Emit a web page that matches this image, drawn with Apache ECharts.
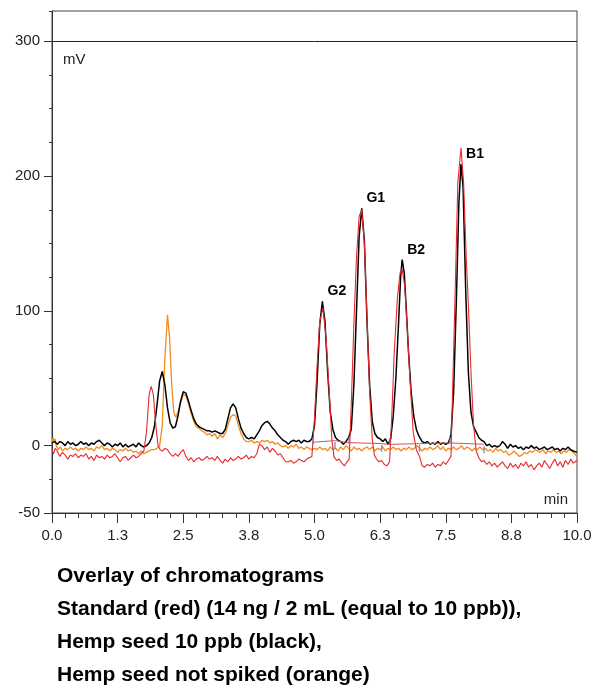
<!DOCTYPE html>
<html>
<head>
<meta charset="utf-8">
<script src="https://cdn.jsdelivr.net/npm/echarts@6/dist/echarts.min.js"></script>
<style>
  html, body { margin: 0; padding: 0; background: #fff; }
  #chart { width: 609px; height: 689px; }
</style>
</head>
<body>
<div id="chart"></div>
<script>
// retention time (min) / signal (mV)
var blackTime = [0.00,0.05,0.10,0.15,0.20,0.25,0.30,0.35,0.40,0.45,0.50,0.55,0.60,0.65,0.70,0.75,0.80,0.85,0.90,0.95,
  1.00,1.05,1.10,1.15,1.20,1.25,1.30,1.35,1.40,1.45,1.50,1.55,1.60,1.65,1.70,1.75,1.80,1.85,1.90,1.95,
  2.00,2.05,2.10,2.15,2.20,2.25,2.30,2.35,2.40,2.45,2.50,2.55,2.60,2.65,2.70,2.75,2.80,2.85,2.90,2.95,
  3.00,3.05,3.10,3.15,3.20,3.25,3.30,3.35,3.40,3.45,3.50,3.55,3.60,3.65,3.70,3.75,3.80,3.85,3.90,3.95,
  4.00,4.05,4.10,4.15,4.20,4.25,4.30,4.35,4.40,4.45,4.50,4.55,4.60,4.65,4.70,4.75,4.80,4.85,4.90,4.95,
  5.00,5.05,5.10,5.15,5.20,5.25,5.30,5.35,5.40,5.45,5.50,5.55,5.60,5.65,5.70,5.75,5.80,5.85,5.90,5.95,
  6.00,6.05,6.10,6.15,6.20,6.25,6.30,6.35,6.40,6.45,6.50,6.55,6.60,6.64,6.67,6.71,6.75,6.79,6.84,6.89,
  6.94,6.99,7.05,7.10,7.15,7.20,7.25,7.30,7.35,7.40,7.45,7.50,7.55,7.60,7.65,7.70,7.75,7.79,7.83,7.88,
  7.93,7.98,8.03,8.08,8.13,8.18,8.23,8.28,8.33,8.38,8.43,8.48,8.53,8.58,8.63,8.68,8.73,8.78,8.83,8.88,
  8.93,8.98,9.03,9.08,9.13,9.18,9.23,9.28,9.33,9.38,9.43,9.48,9.53,9.58,9.63,9.68,9.73,9.78,9.83,9.88,
  9.93,10.00];
var blackMv = [2,3,1,3,2,0,3,1,2,0,1,3,1,2,0,2,1,3,4,2,
  0,2,1,-1,1,0,2,-1,1,-1,0,1,-1,2,0,-1,0,2,6,14,
  30,48,55,45,28,17,13,14,22,33,40,39,33,26,20,16,14,13,12,11,
  11,10,11,10,9,9,12,20,28,31,28,20,13,9,6,5,6,5,8,11,
  15,17,18,16,13,11,8,6,4,3,1,3,4,3,4,2,4,3,3,5,
  15,48,90,107,92,55,25,12,6,4,3,1,3,6,12,45,100,155,176,152,
  92,45,18,9,6,5,3,5,1,5,22,50,90,125,138,128,100,70,40,22,
  12,7,3,2,3,1,2,1,3,1,2,1,2,8,40,105,180,209,192,115,
  55,25,14,10,6,4,3,0,1,-1,0,-1,0,3,1,-2,1,-1,0,-2,
  -1,-3,-1,-2,0,-2,-1,-3,-2,-1,-3,-2,-1,-3,-2,-4,-2,-3,-1,-3,
  -4,-5];

var redTime = [0.00,0.03,0.06,0.10,0.15,0.20,0.25,0.30,0.35,0.40,0.45,0.50,0.55,0.60,0.65,0.70,0.75,0.80,0.85,0.90,
  0.95,1.00,1.05,1.10,1.15,1.20,1.25,1.30,1.35,1.40,1.45,1.50,1.55,1.60,1.65,1.70,1.75,1.80,1.85,1.89,
  1.93,1.98,2.02,2.06,2.10,2.15,2.20,2.25,2.30,2.35,2.40,2.45,2.50,2.55,2.60,2.65,2.70,2.75,2.80,2.85,
  2.90,2.95,3.00,3.05,3.10,3.15,3.20,3.25,3.30,3.35,3.40,3.45,3.50,3.55,3.60,3.65,3.70,3.75,3.80,3.85,
  3.90,3.95,4.00,4.05,4.10,4.15,4.20,4.25,4.30,4.35,4.40,4.45,4.50,4.55,4.60,4.65,4.70,4.75,4.80,4.85,
  4.90,4.95,5.00,5.05,5.10,5.16,5.22,5.28,5.33,5.37,5.42,5.47,5.52,5.57,5.62,5.66,5.70,5.75,5.80,5.85,
  5.90,5.95,6.00,6.05,6.10,6.14,6.18,6.23,6.28,6.33,6.38,6.43,6.47,6.52,6.58,6.63,6.67,6.72,6.77,6.82,
  6.88,6.94,7.00,7.05,7.10,7.15,7.20,7.25,7.30,7.35,7.40,7.45,7.50,7.55,7.60,7.63,7.68,7.73,7.79,7.84,
  7.89,7.93,7.98,8.03,8.08,8.13,8.18,8.23,8.28,8.33,8.38,8.43,8.48,8.53,8.58,8.63,8.68,8.73,8.78,8.83,
  8.88,8.93,8.98,9.03,9.08,9.13,9.18,9.23,9.28,9.33,9.38,9.43,9.48,9.53,9.58,9.63,9.68,9.73,9.78,9.83,
  9.88,9.93,10.00];
var redMv = [-3,-6,-2,-4,-8,-5,-7,-10,-7,-8,-6,-9,-7,-8,-6,-10,-8,-11,-7,-9,
  -8,-10,-7,-9,-8,-6,-9,-12,-9,-8,-11,-9,-7,-9,-8,-6,-4,10,38,44,
  38,14,0,-3,-4,-2,-3,-6,-8,-6,-8,-5,-3,-8,-11,-9,-12,-10,-9,-11,
  -10,-8,-10,-9,-11,-8,-11,-13,-10,-12,-9,-11,-10,-8,-10,-9,-7,-10,-8,-9,
  -6,1,0,-3,-1,-5,-2,-4,-7,-6,-9,-12,-12,-11,-13,-12,-10,-11,-12,-10,
  -9,-8,20,60,92,102,80,40,5,-8,-11,-10,-13,-15,-12,-10,30,90,140,170,
  175,150,95,40,5,-7,-10,-12,-11,-14,-15,-12,20,70,110,128,131,118,85,48,
  10,-3,-8,-15,-16,-14,-15,-13,-16,-14,-15,-12,-14,-11,-8,40,115,195,221,195,
  140,105,55,15,-4,-9,-12,-11,-14,-12,-15,-13,-16,-14,-12,-15,-17,-13,-16,-14,
  -17,-13,-15,-12,-16,-14,-18,-15,-13,-16,-11,-14,-17,-13,-10,-15,-12,-16,-11,-14,
  -10,-13,-11];

var orangeTime = [0.00,0.02,0.04,0.06,0.08,0.12,0.16,0.20,0.25,0.30,0.35,0.40,0.45,0.50,0.55,0.60,0.65,0.70,0.75,0.80,
  0.85,0.90,0.95,1.00,1.05,1.10,1.15,1.20,1.25,1.30,1.35,1.40,1.45,1.50,1.55,1.60,1.65,1.70,1.75,1.80,
  1.85,1.90,1.95,2.00,2.05,2.10,2.15,2.20,2.24,2.28,2.32,2.36,2.40,2.45,2.50,2.55,2.60,2.65,2.70,2.75,
  2.80,2.85,2.90,2.95,3.00,3.05,3.10,3.15,3.20,3.25,3.30,3.35,3.40,3.45,3.50,3.55,3.60,3.65,3.70,3.75,
  3.80,3.85,3.90,3.95,4.00,4.05,4.10,4.15,4.20,4.25,4.30,4.35,4.40,4.45,4.50,4.55,4.60,4.65,4.70,4.75,
  4.80,4.85,4.90,4.95,5.00,5.05,5.10,5.15,5.20,5.25,5.30,5.35,5.40,5.45,5.50,5.55,5.60,5.65,5.70,5.75,
  5.80,5.85,5.90,5.95,6.00,6.05,6.10,6.15,6.20,6.25,6.30,6.35,6.40,6.45,6.50,6.55,6.60,6.65,6.70,6.75,
  6.80,6.85,6.90,6.95,7.00,7.05,7.10,7.15,7.20,7.25,7.30,7.35,7.40,7.45,7.50,7.55,7.60,7.65,7.70,7.75,
  7.80,7.85,7.90,7.95,8.00,8.05,8.10,8.15,8.20,8.25,8.30,8.35,8.40,8.45,8.50,8.55,8.60,8.65,8.70,8.75,
  8.80,8.85,8.90,8.95,9.00,9.05,9.10,9.15,9.20,9.25,9.30,9.35,9.40,9.45,9.50,9.55,9.60,9.65,9.70,9.75,
  9.80,9.85,9.90,9.95,10.00];
var orangeMv = [2,6,3,5,0,-3,-1,-4,-2,-3,-1,-3,-2,-4,-2,-3,-1,-3,-2,-4,
  -1,-2,0,-3,-2,-4,-2,-3,-5,-3,-4,-2,-4,-3,-5,-4,-6,-4,-6,-5,
  -4,-3,-3,-2,0,15,65,97,80,45,25,21,25,32,38,37,31,24,18,14,
  13,11,10,8,9,7,9,5,8,6,9,15,21,23,22,15,9,5,3,3,
  4,2,3,2,4,3,4,2,3,1,2,0,-1,0,-2,0,-1,1,-2,-1,
  -3,-1,-2,-3,-2,-3,-1,-3,-2,-4,-1,-3,-2,-4,-1,-3,0,-2,-4,-1,
  -3,-2,-4,-2,-1,-3,-1,-4,-2,-3,-1,-4,-2,-3,-1,-3,-2,-4,-2,-3,
  -1,-3,-2,0,-2,-4,-2,-3,-1,-3,-2,0,-3,-1,-4,-2,-3,-1,-3,-2,
  0,-3,-1,-2,-4,-2,-3,-1,-3,-2,-4,-3,-5,-2,-4,-3,-5,-4,-7,-6,
  -4,-6,-8,-7,-5,-6,-4,-5,-3,-4,-5,-3,-6,-4,-5,-3,-5,-4,-6,-4,
  -5,-3,-4,-6,-8];

// integration baseline of the standard and its cut marks
var baseTime = [4.97,5.38,5.66,6.28,6.43,7.00,7.58,8.23];
var baseMv = [2.5,3.7,2.2,1.5,0.9,1.5,2,1];
var cutTime = [4.97,5.39,5.66,6.28,6.43,7.00,7.58,8.23];
var cutMv = [3,0,4,-2,3,-2,4,-3];

var peakNames = ['G2','G1','B2','B1'];
var peakTime = [5.16,5.90,6.67,7.79];
var peakMv = [107,176,138,209];

var majorY = [-50,0,100,200,300];
var titleLines = [
  'Overlay of chromatograms',
  'Standard (red) (14 ng / 2 mL (equal to 10 ppb)),',
  'Hemp seed 10 ppb (black),',
  'Hemp seed not spiked (orange)'
];

function pairs(xs, ys) {
  return xs.map(function (x, i) { return [x, ys[i]]; });
}

var font = 'Liberation Sans, Arial, sans-serif';
var axisColor = '#333';

var myChart = echarts.init(document.getElementById('chart'), null, { renderer: 'canvas' });

var option = {
  animation: false,
  backgroundColor: '#fff',
  title: {
    text: titleLines.join('\n'),
    left: 57,
    top: 560,
    padding: 0,
    textStyle: { fontFamily: font, fontSize: 21, fontWeight: 'bold', color: '#000', lineHeight: 33 }
  },
  grid: {
    left: 52, right: 32, top: 11, bottom: 176,
    show: true, borderColor: '#444', borderWidth: 1, backgroundColor: 'transparent'
  },
  graphic: [
    { type: 'text', left: 63, top: 52, style: { text: 'mV', font: '15px ' + font, fill: '#222' } },
    { type: 'text', right: 41, top: 492, style: { text: 'min', font: '15px ' + font, fill: '#222' } }
  ],
  xAxis: {
    type: 'value',
    min: 0, max: 10, interval: 1.25,
    axisLine: { onZero: false, lineStyle: { color: axisColor, width: 1 } },
    axisTick: { length: 10, lineStyle: { color: axisColor } },
    minorTick: { show: true, splitNumber: 5, length: 5, lineStyle: { color: axisColor } },
    axisLabel: {
      margin: 15, fontSize: 15, fontFamily: font, color: '#222',
      formatter: function (v) { return v.toFixed(1); }
    },
    splitLine: { show: false }
  },
  yAxis: [
    {
      type: 'value',
      min: -50, max: 322.5,
      position: 'left',
      axisLine: { show: true, lineStyle: { color: axisColor, width: 1 } },
      axisTick: { show: true, length: 8, customValues: majorY, lineStyle: { color: axisColor } },
      axisLabel: { margin: 12, fontSize: 15, fontFamily: font, color: '#222', customValues: majorY },
      splitLine: { show: false }
    },
    {
      type: 'value',
      min: -50, max: 322.5, interval: 25,
      position: 'left',
      axisLine: { show: false },
      axisTick: { show: true, length: 3, lineStyle: { color: axisColor } },
      axisLabel: { show: false },
      splitLine: { show: false }
    }
  ],
  series: [
    {
      name: 'Hemp seed not spiked',
      type: 'line',
      data: pairs(orangeTime, orangeMv),
      showSymbol: false,
      lineStyle: { color: '#f28a1e', width: 1.3 },
      z: 2
    },
    {
      name: 'Hemp seed 10 ppb',
      type: 'line',
      data: pairs(blackTime, blackMv),
      showSymbol: false,
      lineStyle: { color: '#000', width: 1.5 },
      z: 3,
      markLine: {
        silent: true,
        symbol: ['none', 'none'],
        label: { show: false },
        lineStyle: { color: '#222', width: 1, type: 'solid' },
        data: [{ yAxis: 300 }]
      }
    },
    {
      name: 'Standard',
      type: 'line',
      data: pairs(redTime, redMv),
      showSymbol: false,
      lineStyle: { color: '#e8282a', width: 1.1 },
      z: 4
    },
    {
      name: 'baseline',
      type: 'line',
      data: pairs(baseTime, baseMv),
      showSymbol: false,
      lineStyle: { color: '#ec4a4a', width: 1 },
      z: 4
    },
    {
      name: 'cuts',
      type: 'scatter',
      data: pairs(cutTime, cutMv),
      symbol: 'rect',
      symbolSize: [1.5, 7],
      itemStyle: { color: '#6a82c2' },
      z: 5
    },
    {
      name: 'peaks',
      type: 'scatter',
      data: peakTime.map(function (t, i) { return [t, peakMv[i], peakNames[i]]; }),
      symbolSize: 0,
      label: {
        show: true,
        position: 'inside',
        offset: [14, -10],
        formatter: function (p) { return p.data[2]; },
        fontFamily: font, fontSize: 14, fontWeight: 'bold', color: '#000', opacity: 1
      },
      z: 6
    }
  ]
};
myChart.setOption(option);
</script>
</body>
</html>
